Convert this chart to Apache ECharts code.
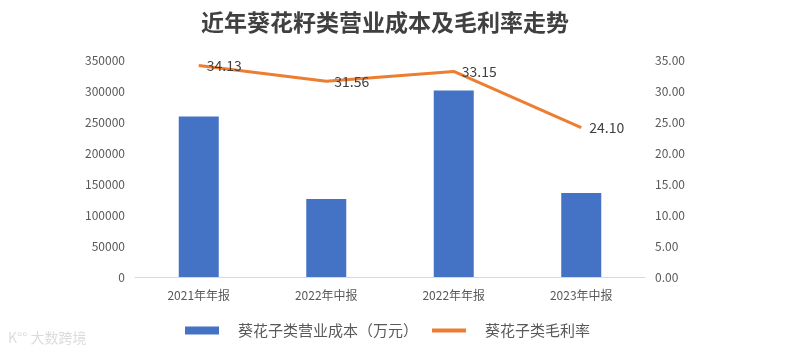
<!DOCTYPE html>
<html>
<head>
<meta charset="utf-8">
<script src="https://cdn.jsdelivr.net/npm/echarts@6/dist/echarts.min.js"></script>
<style>
  html, body { margin: 0; padding: 0; background: #fff; }
  #chart { width: 802px; height: 353px; }
</style>
</head>
<body>
<div id="chart"></div>
<script>
// 报告期
const categories = ['2021年年报', '2022年中报', '2022年年报', '2023年中报'];
// 葵花子类营业成本（万元）
const costValues = [259000, 126000, 301000, 135500];
// 葵花子类毛利率
const marginValues = [34.13, 31.56, 33.15, 24.10];

const chart = echarts.init(document.getElementById('chart'));

const fontFamily = '"Noto Sans CJK SC", "Noto Sans", sans-serif';

chart.setOption({
  animation: false,
  textStyle: { fontFamily },
  title: {
    text: '近年葵花籽类营业成本及毛利率走势',
    left: 196,
    top: 6,
    textStyle: { fontSize: 23, fontWeight: 'bold', color: '#404040', fontFamily }
  },
  legend: {
    bottom: 10,
    left: 180,
    itemGap: 12,
    itemWidth: 34,
    itemHeight: 8,
    textStyle: { fontSize: 15, color: '#595959', padding: [0, 0, 0, 14] },
    data: [
      { name: '葵花子类营业成本（万元）', icon: 'rect' },
      {
        name: '葵花子类毛利率',
        itemStyle: { opacity: 0 },
        lineStyle: { width: 4, color: '#ED7D31' }
      }
    ]
  },
  grid: { left: 135, right: 157, top: 60, bottom: 76 },
  xAxis: {
    type: 'category',
    data: categories,
    axisLine: { lineStyle: { color: '#d9d9d9' } },
    axisTick: { show: false },
    axisLabel: { color: '#595959', fontSize: 12, margin: 12 }
  },
  yAxis: [
    {
      type: 'value',
      min: 0,
      max: 350000,
      interval: 50000,
      splitLine: { show: false },
      axisLine: { show: false },
      axisTick: { show: false },
      axisLabel: {
        color: '#595959',
        fontSize: 12,
        margin: 10,
        formatter: (v) => String(v)
      }
    },
    {
      type: 'value',
      min: 0,
      max: 35,
      interval: 5,
      splitLine: { show: false },
      axisLine: { show: false },
      axisTick: { show: false },
      axisLabel: {
        color: '#595959',
        fontSize: 12,
        margin: 10,
        formatter: (v) => v.toFixed(2)
      }
    }
  ],
  series: [
    {
      name: '葵花子类营业成本（万元）',
      type: 'bar',
      data: costValues,
      barWidth: 40,
      itemStyle: { color: '#4472C4' }
    },
    {
      name: '葵花子类毛利率',
      type: 'line',
      yAxisIndex: 1,
      data: marginValues,
      symbol: 'circle',
      symbolSize: 0,
      showSymbol: true,
      lineStyle: { color: '#ED7D31', width: 3 },
      itemStyle: { color: '#ED7D31' },
      label: {
        show: true,
        position: 'right',
        distance: 8,
        color: '#404040',
        fontSize: 14,
        formatter: (p) => p.value.toFixed(2)
      }
    }
  ],
  graphic: [
    {
      type: 'text',
      left: 8,
      bottom: 8,
      style: { text: 'K°° 大数跨境', fill: '#dcdcdc', fontSize: 14, fontFamily }
    }
  ]
});
</script>
</body>
</html>
